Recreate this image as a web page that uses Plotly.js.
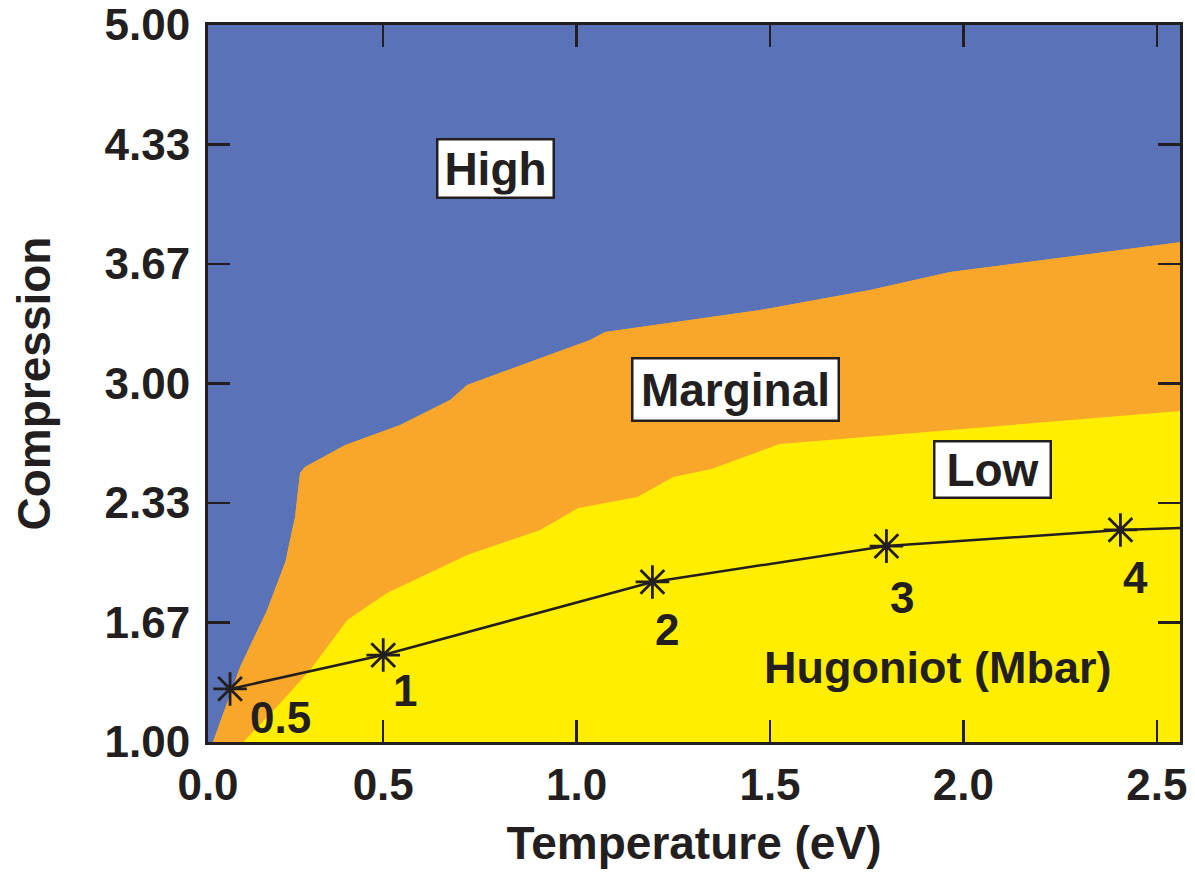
<!DOCTYPE html>
<html>
<head>
<meta charset="utf-8">
<script src="https://cdn.plot.ly/plotly-3.0.1.min.js"></script>
<style>html,body{margin:0;padding:0;background:#fff;}#chart{width:1195px;height:879px;}</style>
</head>
<body>
<div id="chart"></div>
<script>
// ---- data ----
// High / Marginal boundary (temperature eV, compression)
const upperT = [0.060, 0.071, 0.130, 0.200, 0.247, 0.272, 0.285, 0.298, 0.363, 0.402, 0.544, 0.673, 0.717, 0.880, 1.004, 1.035, 1.074, 1.475, 1.759, 1.966, 2.565];
const upperC = [1.000, 1.067, 1.418, 1.736, 2.004, 2.255, 2.501, 2.534, 2.612, 2.657, 2.768, 2.908, 2.992, 3.120, 3.215, 3.243, 3.287, 3.410, 3.522, 3.622, 3.789];
// Marginal / Low boundary
const lowerT = [0.138, 0.241, 0.311, 0.407, 0.510, 0.717, 0.906, 1.004, 1.157, 1.250, 1.348, 1.524, 2.565];
const lowerC = [1.000, 1.234, 1.402, 1.681, 1.831, 2.043, 2.183, 2.305, 2.367, 2.478, 2.523, 2.662, 2.847];
// Hugoniot points
const hugT = [0.104, 0.5, 1.196, 1.801, 2.406];
const hugC = [1.296, 1.485, 1.893, 2.093, 2.183];
const hugLabels = ['0.5', '1', '2', '3', '4'];
// Hugoniot curve continuation to the right edge
const hugLineT = [0.104, 0.5, 1.196, 1.801, 2.406, 2.565];
const hugLineC = [1.296, 1.485, 1.893, 2.093, 2.183, 2.194];
// axes
const xTickVals = [0.047, 0.5, 1.0, 1.5, 2.0, 2.5];
const xTickText = ['0.0', '0.5', '1.0', '1.5', '2.0', '2.5'];
const yTickVals = [1, 1.667, 2.333, 3, 3.667, 4.333, 5];
const yTickText = ['1.00', '1.67', '2.33', '3.00', '3.67', '4.33', '5.00'];
const regionNames = ['High', 'Marginal', 'Low'];

// ---- layout constants ----
const xMin = 0.047, xMax = 2.56, yMin = 1, yMax = 5;
const FONT = 'Liberation Sans, Arial, Helvetica, sans-serif';
const INK = '#231f20';
const BLUE = '#5a73b8', ORANGE = '#f9a72b', YELLOW = '#ffee00';
const farL = xMin - 0.2, farR = xMax + 0.2, farB = yMin - 0.2, farT = yMax + 0.2;
const lastU = upperC[upperC.length - 1], lastL = lowerC[lowerC.length - 1];

const blue = {
  x: [farL].concat(upperT, [farR, farR, farL]),
  y: [yMin].concat(upperC, [lastU, farT, farT]),
  fill: 'toself', fillcolor: BLUE, mode: 'lines', line: {width: 0}, hoverinfo: 'skip', showlegend: false
};
const orange = {
  x: upperT.concat([farR, farR], lowerT.slice().reverse()),
  y: upperC.concat([lastU, lastL], lowerC.slice().reverse()),
  fill: 'toself', fillcolor: ORANGE, mode: 'lines', line: {width: 0}, hoverinfo: 'skip', showlegend: false
};
const yellow = {
  x: lowerT.concat([farR, farR, lowerT[0]]),
  y: lowerC.concat([lastL, farB, farB]),
  fill: 'toself', fillcolor: YELLOW, mode: 'lines', line: {width: 0}, hoverinfo: 'skip', showlegend: false
};
const hugLine = {
  x: hugLineT, y: hugLineC, mode: 'lines', line: {color: INK, width: 2.5}, showlegend: false, hoverinfo: 'skip'
};
const hugPts = {
  x: hugT, y: hugC, mode: 'markers',
  marker: {symbol: 'asterisk-open', size: 28, color: INK, line: {color: INK, width: 2.8}},
  showlegend: false
};

const labelOffsets = [[50, -29], [22, -35], [15, -48], [16, -51], [15, -48]];
const annotations = hugLabels.map((t, i) => ({
  x: hugT[i], y: hugC[i], xref: 'x', yref: 'y', text: t, showarrow: false,
  xanchor: 'center', yanchor: 'middle', xshift: labelOffsets[i][0], yshift: labelOffsets[i][1],
  font: {family: FONT, size: 44, color: INK, weight: 'bold'}
}));
const boxes = [
  {x: 0.790, y: 4.202, w: 110, h: 52},
  {x: 1.410, y: 2.969, w: 200, h: 56},
  {x: 2.075, y: 2.523, w: 110, h: 50}
];
regionNames.forEach((t, i) => annotations.push({
  x: boxes[i].x, y: boxes[i].y, xref: 'x', yref: 'y', text: t, showarrow: false,
  xanchor: 'center', yanchor: 'middle', width: boxes[i].w, height: boxes[i].h,
  bgcolor: '#ffffff', bordercolor: INK, borderwidth: 2.5, borderpad: 2,
  font: {family: FONT, size: 46, color: INK, weight: 'bold'}
}));
annotations.push({
  x: 1.933, y: 1.413, xref: 'x', yref: 'y', text: 'Hugoniot (Mbar)', showarrow: false,
  xanchor: 'center', yanchor: 'middle',
  font: {family: FONT, size: 45, color: INK, weight: 'bold'}
});

const axisCommon = {
  showline: true, mirror: 'ticks', linecolor: INK, linewidth: 3,
  ticks: 'inside', ticklen: 22, tickwidth: 2.5, tickcolor: INK,
  showgrid: false, zeroline: false, tickmode: 'array',
  tickfont: {family: FONT, size: 44, color: INK, weight: 'bold'}
};

const layout = {
  width: 1195, height: 879,
  margin: {l: 208, r: 15, t: 25, b: 137},
  paper_bgcolor: '#ffffff', plot_bgcolor: ORANGE,
  font: {family: FONT, color: INK},
  xaxis: Object.assign({}, axisCommon, {
    range: [xMin, xMax], tickvals: xTickVals, ticktext: xTickText, ticklabelstandoff: 2,
    title: {text: 'Temperature (eV)', font: {family: FONT, size: 46, color: INK, weight: 'bold'}, standoff: 20}
  }),
  yaxis: Object.assign({}, axisCommon, {
    range: [yMin, yMax], tickvals: yTickVals, ticktext: yTickText, ticklabelstandoff: 6,
    title: {text: 'Compression', font: {family: FONT, size: 46, color: INK, weight: 'bold'}, standoff: 40}
  }),
  annotations: annotations,
  showlegend: false
};

Plotly.newPlot('chart', [blue, orange, yellow, hugLine, hugPts], layout, {displayModeBar: false, staticPlot: true});
</script>
</body>
</html>
